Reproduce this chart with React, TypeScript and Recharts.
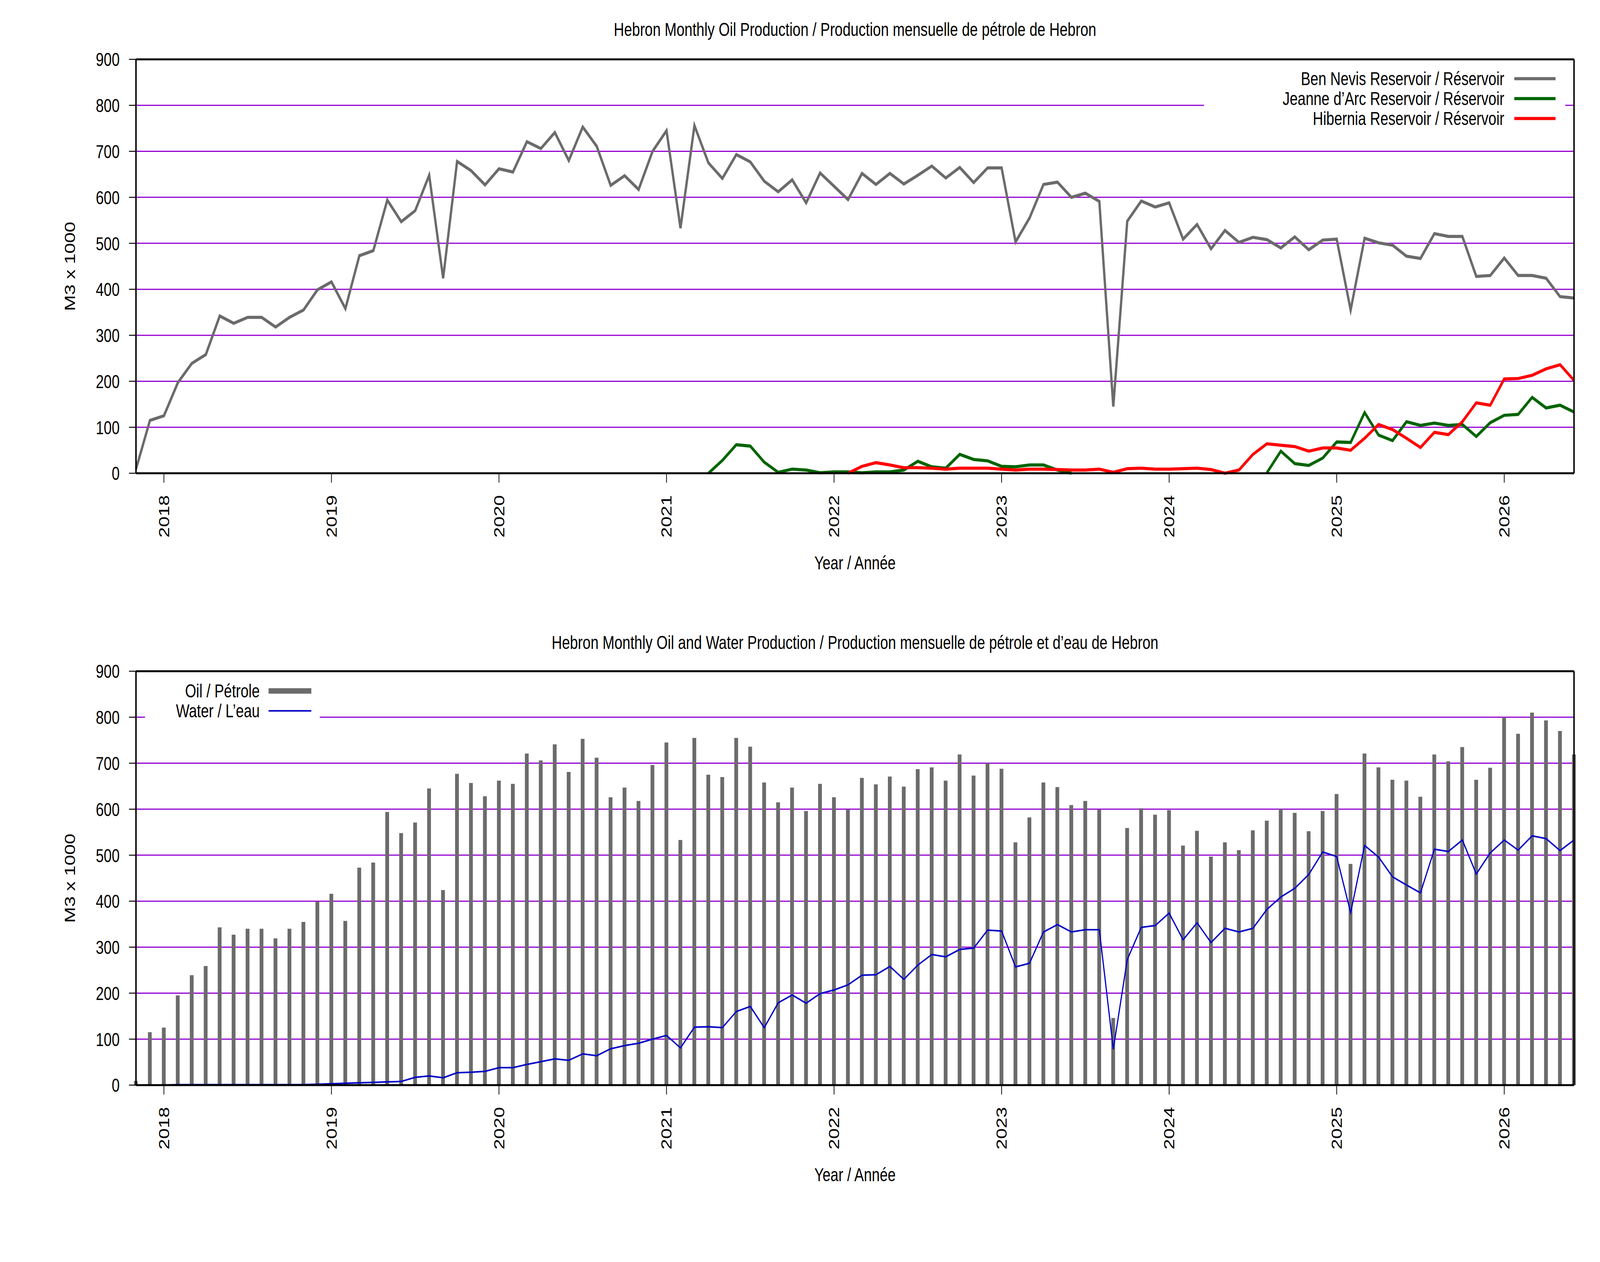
import { ComposedChart, Line, Bar, XAxis, YAxis, CartesianGrid, Legend } from 'recharts';

const FONT = '"Liberation Sans", Arial, Helvetica, sans-serif';
const FS = 49;
const W = 5483;
const H = 3232;

// month index 0 = Nov 2017, 103 = Jun 2026
const yearTicks = [2, 14, 26, 38, 50, 62, 74, 86, 98];
const yearLabels = ['2018', '2019', '2020', '2021', '2022', '2023', '2024', '2025', '2026'];
const yTicks = [0, 100, 200, 300, 400, 500, 600, 700, 800, 900];

// M3 x 1000 per month
const benNevis = [
  9, 115, 125, 197, 239, 258, 342, 326, 339, 339, 318, 339,
  355, 399, 416, 358, 473, 484, 594, 547, 571, 648, 424, 678,
  658, 627, 662, 655, 721, 706, 741, 680, 753, 711, 626, 647,
  617, 700, 745, 533, 756, 675, 641, 693, 677, 635, 612, 638,
  588, 653, 624, 595, 652, 628, 652, 629, 648, 668, 642, 665,
  632, 664, 664, 503, 555, 628, 633, 600, 609, 591, 145, 548,
  592, 579, 588, 509, 541, 488, 528, 502, 513, 508, 490, 514,
  486, 507, 509, 355, 511, 501, 496, 472, 467, 521, 515, 515,
  428, 430, 468, 430, 430, 424, 384, 381,
];

const jeanneDArc = [
  null, null, null, null, null, null, null, null, null, null, null, null,
  null, null, null, null, null, null, null, null, null, null, null, null,
  null, null, null, null, null, null, null, null, null, null, null, null,
  null, null, null, null, null, 0, 28, 62, 59, 24, 2, 9,
  7, 1, 3, 3, 1, 3, 3, 7, 26, 14, 11, 41,
  30, 27, 15, 14, 18, 18, 7, 0, null, null, null, null,
  null, null, null, null, null, null, null, null, null, 1, 48, 21,
  17, 33, 68, 67, 132, 83, 71, 112, 104, 109, 104, 106,
  80, 110, 126, 128, 165, 142, 148, 133,
];

const hibernia = [
  null, null, null, null, null, null, null, null, null, null, null, null,
  null, null, null, null, null, null, null, null, null, null, null, null,
  null, null, null, null, null, null, null, null, null, null, null, null,
  null, null, null, null, null, null, null, null, null, null, null, null,
  null, null, null, 0, 15, 23, 18, 12, 12, 11, 9, 11,
  11, 11, 9, 7, 9, 9, 8, 7, 7, 9, 2, 10,
  11, 9, 9, 10, 11, 8, 0, 7, 41, 64, 61, 58,
  48, 55, 55, 50, 76, 106, 95, 76, 56, 89, 84, 112,
  153, 148, 205, 206, 213, 227, 236, 202,
];

const oil = [
  9, 115, 125, 195, 239, 259, 343, 327, 340, 340, 319, 340,
  355, 399, 416, 357, 473, 484, 594, 548, 571, 645, 424, 677,
  657, 628, 662, 655, 721, 706, 741, 681, 753, 712, 626, 647,
  618, 696, 745, 533, 755, 675, 670, 755, 736, 658, 615, 647,
  596, 655, 626, 599, 668, 654, 671, 649, 687, 691, 662, 719,
  673, 700, 688, 528, 582, 658, 648, 609, 618, 599, 146, 559,
  602, 588, 598, 521, 553, 497, 528, 511, 554, 575, 600, 592,
  552, 596, 633, 481, 721, 691, 664, 662, 627, 719, 704, 735,
  664, 690, 800, 764, 810, 793, 770, 719,
];

const water = [
  0, 0, 0, 1, 1, 1, 1, 1, 1, 1, 1, 1,
  1, 2, 3, 4, 5, 6, 7, 8, 17, 20, 16, 27,
  28, 30, 38, 38, 45, 51, 57, 54, 68, 64, 79, 86,
  91, 100, 108, 81, 126, 127, 125, 160, 171, 125, 179, 196,
  178, 199, 207, 218, 239, 240, 258, 230, 261, 284, 279, 295,
  298, 337, 335, 257, 265, 333, 349, 333, 338, 338, 78, 273,
  343, 347, 374, 316, 353, 310, 341, 333, 341, 382, 409, 428,
  458, 507, 497, 375, 521, 496, 453, 435, 418, 513, 508, 533,
  459, 505, 533, 511, 542, 536, 510, 533,
];

const reservoirRows = benNevis.map((v, i) => ({ m: i, ben: v, jda: jeanneDArc[i], hib: hibernia[i] }));
const totalRows = oil.map((v, i) => ({ m: i, oil: v, water: water[i] }));

const GREY = '#6b6b6b';
const GRID = '#9400d3';

const YearTick = (props: any) => {
  const { x, y, payload } = props;
  const idx = yearTicks.indexOf(payload.value);
  return (
    <text x={x} y={y} transform={`rotate(-90, ${x}, ${y})`} textAnchor="end" dy="0.36em"
      fontSize={FS} fontFamily={FONT} fill="#000">
      {idx >= 0 ? yearLabels[idx] : ''}
    </text>
  );
};

const yTitle = (p: any) => {
  const vb = p && p.viewBox ? p.viewBox : { x: 0, y: 152, width: 466, height: 1060 };
  const cx = 240;
  const cy = vb.y + vb.height / 2;
  return (
    <text x={cx} y={cy} transform={`rotate(-90, ${cx}, ${cy})`} textAnchor="middle" dominantBaseline="central"
      fontSize={FS} fontFamily={FONT} fill="#000">M3 x 1000</text>
  );
};

const xTitle = (p: any) => {
  const vb = p && p.viewBox ? p.viewBox : { x: 466, y: 1212, width: 4928, height: 355 };
  return (
    <text x={vb.x + vb.width / 2} y={vb.y + 229} textAnchor="middle" dominantBaseline="central"
      fontSize={FS} fontFamily={FONT} fill="#000">Year / Année</text>
  );
};

type KeyItem = { label: string; color: string; thickness: number };

const KeyBox = ({ items, textWidth, gap, sample }: { items: KeyItem[]; textWidth: number; gap: number; sample: number }) => (
  <div style={{ background: '#fff', fontFamily: FONT, fontSize: FS, color: '#000' }}>
    {items.map((it) => (
      <div key={it.label} style={{ display: 'flex', alignItems: 'center', height: 51 }}>
        <span style={{ width: textWidth, textAlign: 'right', whiteSpace: 'nowrap', lineHeight: '51px' }}>{it.label}</span>
        <svg width={sample} height={51} style={{ marginLeft: gap, display: 'block' }}>
          <line x1={0} x2={sample} y1={25.5} y2={25.5} stroke={it.color} strokeWidth={it.thickness} />
        </svg>
      </div>
    ))}
  </div>
);

const reservoirKey: KeyItem[] = [
  { label: 'Ben Nevis Reservoir / Réservoir', color: GREY, thickness: 8 },
  { label: 'Jeanne d’Arc Reservoir / Réservoir', color: '#006400', thickness: 8 },
  { label: 'Hibernia Reservoir / Réservoir', color: '#ff0000', thickness: 8 },
];

const totalKey: KeyItem[] = [
  { label: 'Oil / Pétrole', color: GREY, thickness: 14 },
  { label: 'Water / L’eau', color: '#0000c8', thickness: 4 },
];

const axisLine = { stroke: '#000', strokeWidth: 5 };
const tickLine = { stroke: '#000', strokeWidth: 2.5 };
const tickFont = { fontSize: FS, fontFamily: FONT, fill: '#000' };

const titleStyle: React.CSSProperties = {
  position: 'absolute', left: 466, width: 4928, textAlign: 'center',
  fontFamily: FONT, fontSize: FS, lineHeight: '56px', color: '#000', whiteSpace: 'nowrap',
};

const TOP_H = 1567;
const BOT_H = H - TOP_H;

export default function App() {
  // the window may come up smaller than asked; stretch the 5483x3232 drawing to fill what is there
  const vw = typeof window !== 'undefined'
    ? Math.min(window.innerWidth, document.documentElement.clientWidth || window.innerWidth)
    : W;
  const vh = typeof window !== 'undefined'
    ? Math.min(window.innerHeight, document.documentElement.clientHeight || window.innerHeight)
    : H;
  const sx = vw / W;
  const sy = vh / H;

  return (
    <div style={{ position: 'absolute', left: 0, top: 0, width: W * sx, height: H * sy, overflow: 'hidden', background: '#fff' }}>
      <div style={{ position: 'relative', width: W, height: H, transform: `scale(${sx}, ${sy})`, transformOrigin: '0 0', background: '#fff' }}>
        <div style={{ ...titleStyle, top: 47 }}>Hebron Monthly Oil Production / Production mensuelle de pétrole de Hebron</div>
        <div style={{ ...titleStyle, top: 1617 }}>Hebron Monthly Oil and Water Production / Production mensuelle de pétrole et d’eau de Hebron</div>

        <div style={{ position: 'absolute', left: 0, top: 0 }}>
          <ComposedChart width={W} height={TOP_H} data={reservoirRows} margin={{ top: 128, right: 0, bottom: 0, left: 0 }}>
            <CartesianGrid vertical={false} stroke={GRID} strokeWidth={3} />
            <XAxis dataKey="m" type="number" domain={[0, 103]} ticks={yearTicks} interval={0}
              height={TOP_H - 152 - 1060} axisLine={axisLine} tickLine={tickLine} tickSize={24} tickMargin={32}
              tick={<YearTick />} label={xTitle} />
            <XAxis xAxisId="top" orientation="top" dataKey="m" type="number" domain={[0, 103]} ticks={yearTicks}
              height={24} axisLine={axisLine} tickLine={tickLine} tickSize={24} tick={false} />
            <YAxis domain={[0, 900]} ticks={yTicks} interval={0} width={466} axisLine={axisLine} tickLine={tickLine}
              tickSize={24} tickMargin={32} tick={tickFont} label={yTitle} />
            <YAxis yAxisId="r" orientation="right" domain={[0, 900]} ticks={yTicks} width={89} axisLine={axisLine}
              tickLine={tickLine} tickSize={24} tick={false} />
            <Line dataKey="ben" stroke={GREY} strokeWidth={8} dot={false} activeDot={false} isAnimationActive={false} />
            <Line dataKey="jda" stroke="#006400" strokeWidth={8} dot={false} activeDot={false} isAnimationActive={false} />
            <Line dataKey="hib" stroke="#ff0000" strokeWidth={8} dot={false} activeDot={false} isAnimationActive={false} />
            <Legend layout="vertical" align="center" verticalAlign="middle"
              wrapperStyle={{ left: 4126, top: 176, width: 1238, height: 153, background: '#fff' }}
              content={() => <KeyBox items={reservoirKey} textWidth={1029} gap={34} sample={142} />} />
          </ComposedChart>
        </div>

        <div style={{ position: 'absolute', left: 0, top: TOP_H }}>
          <ComposedChart width={W} height={BOT_H} data={totalRows} margin={{ top: 128, right: 0, bottom: 0, left: 0 }}>
            <CartesianGrid vertical={false} stroke={GRID} strokeWidth={3} />
            <XAxis dataKey="m" type="number" domain={[0, 103]} ticks={yearTicks} interval={0}
              height={BOT_H - 152 - 1060} axisLine={axisLine} tickLine={tickLine} tickSize={24} tickMargin={32}
              tick={<YearTick />} label={xTitle} />
            <XAxis xAxisId="top" orientation="top" dataKey="m" type="number" domain={[0, 103]} ticks={yearTicks}
              height={24} axisLine={axisLine} tickLine={tickLine} tickSize={24} tick={false} />
            <YAxis domain={[0, 900]} ticks={yTicks} interval={0} width={466} axisLine={axisLine} tickLine={tickLine}
              tickSize={24} tickMargin={32} tick={tickFont} label={yTitle} />
            <YAxis yAxisId="r" orientation="right" domain={[0, 900]} ticks={yTicks} width={89} axisLine={axisLine}
              tickLine={tickLine} tickSize={24} tick={false} />
            <Bar dataKey="oil" fill={GREY} barSize={13} isAnimationActive={false} />
            <Line dataKey="water" stroke="#0000c8" strokeWidth={4} dot={false} activeDot={false} isAnimationActive={false} />
            <Legend layout="vertical" align="center" verticalAlign="middle"
              wrapperStyle={{ left: 497, top: 177, width: 599, height: 102, background: '#fff' }}
              content={() => <KeyBox items={totalKey} textWidth={393} gap={30} sample={147} />} />
          </ComposedChart>
        </div>
      </div>
    </div>
  );
}
